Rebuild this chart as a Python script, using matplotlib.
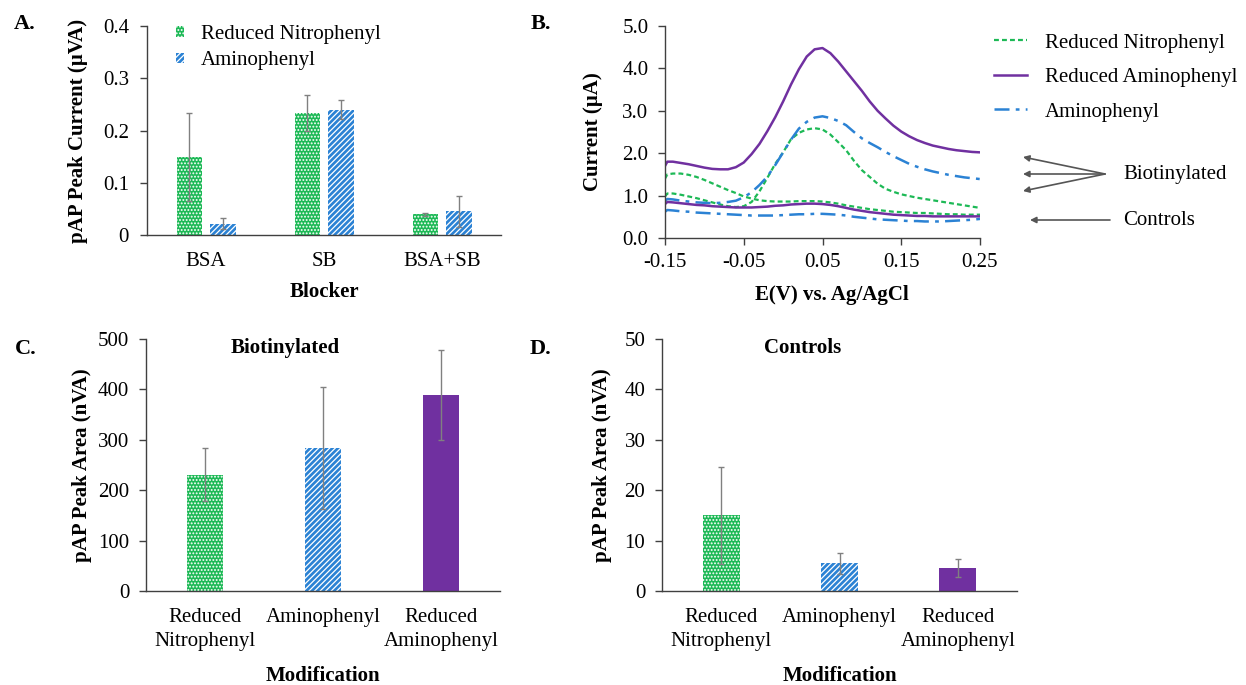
import numpy as np
import matplotlib
matplotlib.use("Agg")
import matplotlib.pyplot as plt
from matplotlib.patches import Patch, FancyArrowPatch

plt.rcParams["font.family"] = ["Liberation Serif", "DejaVu Serif"]
plt.rcParams["font.size"] = 15
plt.rcParams["axes.unicode_minus"] = False
plt.rcParams["hatch.linewidth"] = 0.9

# ---------------- data ----------------
# Panel A: peak current by blocker
blockers = ["BSA", "SB", "BSA+SB"]
a_nitro = [0.150, 0.233, 0.040]
a_nitro_err = [0.084, 0.034, 0.003]
a_amino = [0.022, 0.240, 0.045]
a_amino_err = [0.011, 0.018, 0.029]

# Panel B: voltammograms
potential = [-0.15, -0.147, -0.14, -0.13, -0.12, -0.11, -0.10, -0.09, -0.08, -0.07,
             -0.06, -0.05, -0.04, -0.03, -0.02, -0.01, 0.00, 0.01, 0.02, 0.03,
             0.04, 0.05, 0.06, 0.07, 0.08, 0.09, 0.10, 0.11, 0.12, 0.13,
             0.14, 0.15, 0.16, 0.17, 0.18, 0.19, 0.20, 0.21, 0.22, 0.23,
             0.24, 0.25]
red_amino_bio = [1.70, 1.80, 1.80, 1.77, 1.74, 1.70, 1.66, 1.63, 1.62, 1.62,
                 1.67, 1.78, 1.98, 2.22, 2.52, 2.85, 3.22, 3.62, 3.98, 4.28,
                 4.45, 4.48, 4.36, 4.16, 3.93, 3.70, 3.47, 3.22, 3.00, 2.82,
                 2.65, 2.51, 2.40, 2.31, 2.24, 2.18, 2.14, 2.10, 2.07, 2.05,
                 2.03, 2.02]
amino_bio = [0.88, 0.92, 0.91, 0.88, 0.86, 0.84, 0.83, 0.82, 0.83, 0.85,
             0.88, 0.96, 1.08, 1.25, 1.45, 1.72, 2.02, 2.32, 2.58, 2.74,
             2.84, 2.87, 2.83, 2.76, 2.66, 2.50, 2.35, 2.24, 2.14, 2.03,
             1.93, 1.84, 1.75, 1.68, 1.62, 1.57, 1.53, 1.49, 1.46, 1.43,
             1.41, 1.39]
red_nitro_bio = [0.98, 1.05, 1.05, 1.02, 0.98, 0.94, 0.89, 0.84, 0.79, 0.75,
                 0.73, 0.75, 0.85, 1.10, 1.42, 1.75, 2.02, 2.33, 2.48, 2.56,
                 2.59, 2.56, 2.44, 2.26, 2.07, 1.82, 1.60, 1.44, 1.28, 1.16,
                 1.09, 1.03, 0.99, 0.95, 0.92, 0.89, 0.86, 0.83, 0.80, 0.77,
                 0.74, 0.71]
red_nitro_ctrl = [1.40, 1.50, 1.52, 1.52, 1.49, 1.44, 1.37, 1.29, 1.21, 1.13,
                  1.06, 0.98, 0.93, 0.89, 0.87, 0.86, 0.86, 0.86, 0.87, 0.87,
                  0.87, 0.86, 0.84, 0.81, 0.77, 0.74, 0.71, 0.68, 0.66, 0.64,
                  0.62, 0.61, 0.60, 0.59, 0.59, 0.58, 0.57, 0.56, 0.56, 0.55,
                  0.55, 0.55]
red_amino_ctrl = [0.80, 0.85, 0.84, 0.82, 0.80, 0.78, 0.77, 0.75, 0.74, 0.73,
                  0.72, 0.72, 0.72, 0.73, 0.74, 0.76, 0.77, 0.79, 0.80, 0.81,
                  0.81, 0.80, 0.78, 0.75, 0.71, 0.67, 0.64, 0.61, 0.59, 0.57,
                  0.55, 0.54, 0.53, 0.52, 0.52, 0.51, 0.51, 0.51, 0.51, 0.51,
                  0.51, 0.51]
amino_ctrl = [0.62, 0.66, 0.65, 0.63, 0.62, 0.60, 0.59, 0.58, 0.57, 0.56,
              0.55, 0.54, 0.53, 0.53, 0.53, 0.53, 0.54, 0.55, 0.56, 0.56,
              0.57, 0.57, 0.56, 0.55, 0.53, 0.50, 0.48, 0.46, 0.44, 0.43,
              0.42, 0.41, 0.40, 0.40, 0.39, 0.39, 0.39, 0.40, 0.41, 0.42,
              0.43, 0.45]

# Panels C and D: peak areas by modification
modifications = ["Reduced\nNitrophenyl", "Aminophenyl", "Reduced\nAminophenyl"]
c_area = [231, 284, 389]
c_err = [53, 121, 90]
d_area = [15.0, 5.5, 4.5]
d_err = [9.6, 2.1, 1.8]

# ---------------- styling ----------------
GREEN = "#1db956"
BLUE = "#2b82d4"
PURPLE = "#7030a0"
ERR = "#808080"
AXC = "#404040"

W, H = 1246, 685
fig = plt.figure(figsize=(W / 100, H / 100), dpi=100)


def rect(l, t, r, b):
    return [l / W, 1 - b / H, (r - l) / W, (b - t) / H]


def style_axes(ax):
    for s in ("top", "right"):
        ax.spines[s].set_visible(False)
    for s in ("left", "bottom"):
        ax.spines[s].set_color(AXC)
        ax.spines[s].set_linewidth(1.0)
    ax.tick_params(axis="y", direction="out", length=5, width=1, color=AXC)


green_kw = dict(facecolor=GREEN, edgecolor="white", linewidth=0, hatch=".....")
blue_kw = dict(facecolor=BLUE, edgecolor="white", linewidth=0, hatch="//////")
purple_kw = dict(facecolor=PURPLE, edgecolor=PURPLE, linewidth=0)
err_kw = dict(ecolor=ERR, elinewidth=1, capsize=2.5, capthick=1)

bold = dict(fontweight="bold")

# ---------------- Panel A ----------------
axA = fig.add_axes(rect(147, 26, 501, 235))
style_axes(axA)
xa = np.arange(len(blockers))
bw = 0.22
axA.bar(xa - 0.14, a_nitro, bw, yerr=a_nitro_err, error_kw=err_kw, **green_kw)
axA.bar(xa + 0.14, a_amino, bw, yerr=a_amino_err, error_kw=err_kw, **blue_kw)
axA.set_xlim(-0.5, 2.5)
axA.set_ylim(0, 0.4)
axA.set_yticks([0, 0.1, 0.2, 0.3, 0.4])
axA.set_yticklabels(["0", "0.1", "0.2", "0.3", "0.4"])
axA.set_xticks(xa)
axA.set_xticklabels(blockers)
axA.tick_params(axis="x", length=0, pad=12)
axA.tick_params(axis="y", pad=8)
axA.set_ylabel("pAP Peak Current (\u00b5VA)", **bold)
axA.yaxis.set_label_coords(-0.167, 0.5)
axA.set_xlabel("Blocker", **bold)
axA.xaxis.set_label_coords(0.5, -0.227)
axA.legend(handles=[Patch(label="Reduced Nitrophenyl", **green_kw),
                    Patch(label="Aminophenyl", **blue_kw)],
           loc="upper left", bbox_to_anchor=(176 / W, 1 - 25 / H),
           bbox_transform=fig.transFigure, frameon=False, borderpad=0,
           borderaxespad=0, handlelength=0.4, handleheight=0.4,
           handletextpad=0.8, labelspacing=0.36, fontsize=15)

# ---------------- Panel B ----------------
axB = fig.add_axes(rect(665, 26, 980, 238))
style_axes(axB)
dash_g = (0, (2.2, 1.4))
dash_b = (0, (6, 2.5, 1.5, 2.5))
l_rn, = axB.plot(potential, red_nitro_bio, color=GREEN, lw=1.6, ls=dash_g,
                 label="Reduced Nitrophenyl")
l_ra, = axB.plot(potential, red_amino_bio, color=PURPLE, lw=1.8,
                 label="Reduced Aminophenyl")
l_am, = axB.plot(potential, amino_bio, color=BLUE, lw=1.8, ls=dash_b,
                 label="Aminophenyl")
axB.plot(potential, red_nitro_ctrl, color=GREEN, lw=1.6, ls=dash_g)
axB.plot(potential, red_amino_ctrl, color=PURPLE, lw=1.8)
axB.plot(potential, amino_ctrl, color=BLUE, lw=1.8, ls=dash_b)
axB.set_xlim(-0.15, 0.25)
axB.set_ylim(0, 5)
axB.set_xticks([-0.15, -0.05, 0.05, 0.15, 0.25])
axB.set_xticklabels(["-0.15", "-0.05", "0.05", "0.15", "0.25"])
axB.set_yticks([0, 1, 2, 3, 4, 5])
axB.set_yticklabels(["0.0", "1.0", "2.0", "3.0", "4.0", "5.0"])
axB.tick_params(axis="x", direction="out", length=5, width=1, color=AXC, pad=6)
axB.tick_params(axis="y", pad=7)
axB.set_ylabel("Current (\u00b5A)", **bold)
axB.yaxis.set_label_coords(-0.197, 0.5)
axB.set_xlabel("E(V) vs. Ag/AgCl", **bold)
axB.xaxis.set_label_coords(0.53, -0.223)
axB.legend(handles=[l_rn, l_ra, l_am], loc="upper left",
           bbox_to_anchor=(994 / W, 1 - 33 / H), bbox_transform=fig.transFigure,
           frameon=False, borderpad=0, borderaxespad=0, handlelength=1.6,
           handletextpad=0.85, labelspacing=0.72, fontsize=15)

# group arrows
arrow_kw = dict(arrowstyle="-|>", color="#555555", lw=1.2, mutation_scale=9,
                shrinkA=0, shrinkB=0)
tail = (1105 / W, 1 - 174 / H)
for ty in (157, 174, 191):
    fig.add_artist(FancyArrowPatch(tail, (1023 / W, 1 - ty / H),
                                   transform=fig.transFigure, **arrow_kw))
fig.add_artist(FancyArrowPatch((1110 / W, 1 - 220 / H), (1030 / W, 1 - 220 / H),
                               transform=fig.transFigure, **arrow_kw))
fig.text(1123 / W, 1 - 175 / H, "Biotinylated", va="center", ha="left")
fig.text(1123 / W, 1 - 220 / H, "Controls", va="center", ha="left")


# ---------------- Panels C and D ----------------
def area_panel(box, values, errors, ymax, step, title, title_x):
    ax = fig.add_axes(rect(*box))
    style_axes(ax)
    x = np.arange(len(modifications))
    kws = [green_kw, blue_kw, purple_kw]
    for i in range(len(values)):
        ax.bar(x[i], values[i], 0.31, yerr=errors[i], error_kw=err_kw, **kws[i])
    ax.set_xlim(-0.5, 2.5)
    ax.set_ylim(0, ymax)
    ax.set_yticks(np.arange(0, ymax + step / 2, step))
    ax.set_xticks(x)
    ax.set_xticklabels(modifications, linespacing=1.35)
    ax.tick_params(axis="x", length=0, pad=12)
    ax.tick_params(axis="y", pad=7)
    ax.set_ylabel("pAP Peak Area (nVA)", **bold)
    ax.set_xlabel("Modification", **bold)
    ax.xaxis.set_label_coords(0.5, -0.298)
    ax.text(title_x, 0.963, title, transform=ax.transAxes, ha="center",
            va="center", **bold)
    return ax


axC = area_panel((146, 339, 500, 591), c_area, c_err, 500, 100,
                 "Biotinylated", 0.393)
axC.yaxis.set_label_coords(-0.153, 0.5)
axD = area_panel((662, 339, 1017, 591), d_area, d_err, 50, 10,
                 "Controls", 0.397)
axD.yaxis.set_label_coords(-0.141, 0.5)

# panel letters
for lab, px, py in (("A.", 25, 24), ("B.", 541, 24), ("C.", 26, 349), ("D.", 541, 349)):
    fig.text(px / W, 1 - py / H, lab, ha="center", va="center",
             fontsize=16, fontweight="bold")

fig.savefig("out.png", dpi=100)
